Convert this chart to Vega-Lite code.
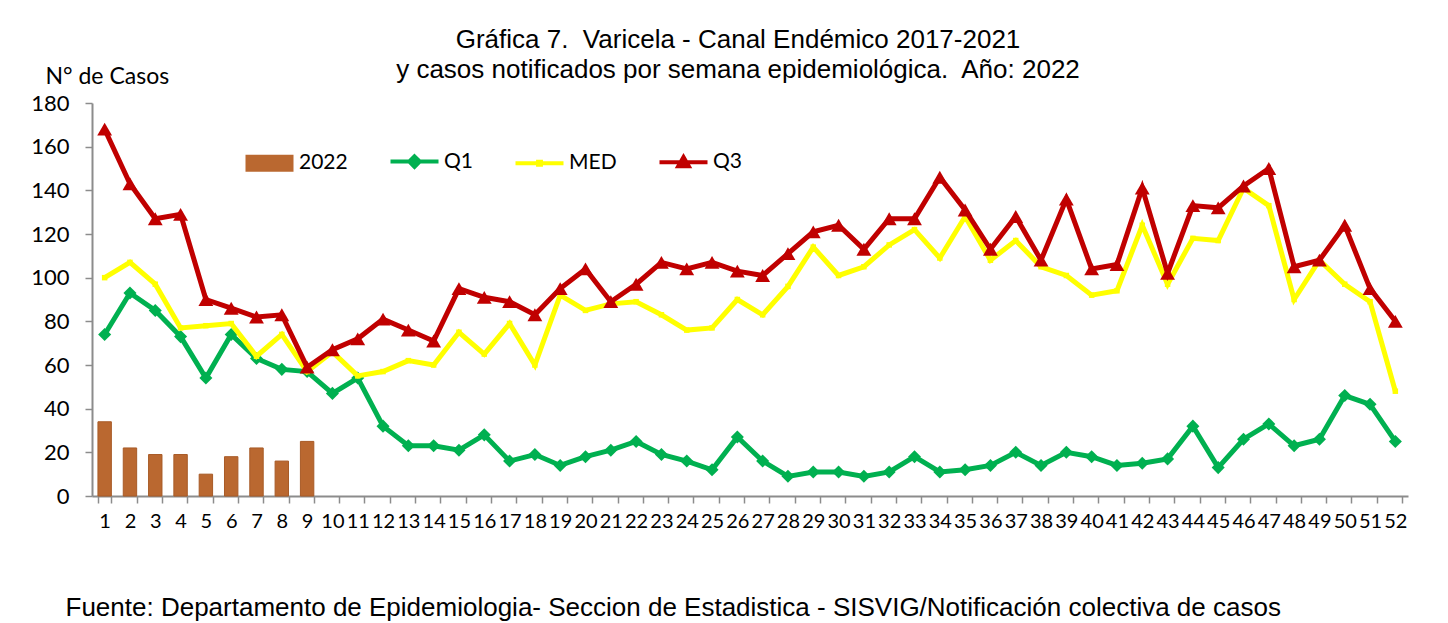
{
  "$schema": "https://vega.github.io/schema/vega-lite/v6.json",
  "width": 1316,
  "height": 393,
  "autosize": {"type": "none"},
  "padding": {"left": 92, "top": 103, "right": 40, "bottom": 127},
  "background": "white",
  "config": {"view": {"stroke": null}, "font": "Liberation Sans"},
  "title": {
    "text": ["Gráfica 7.\u00a0 Varicela - Canal Endémico 2017-2021", "y casos notificados por semana epidemiológica.\u00a0 Año: 2022"],
    "font": "Liberation Sans",
    "fontSize": 26,
    "fontWeight": "normal",
    "color": "#000000",
    "anchor": "middle",
    "frame": "group",
    "lineHeight": 30,
    "dx": -12,
    "dy": 22,
    "offset": 4
  },
  "data": {
    "values": [
      {"semana": 1, "2022": 34, "Q1": 74, "MED": 100, "Q3": 168},
      {"semana": 2, "2022": 22, "Q1": 93, "MED": 107, "Q3": 143},
      {"semana": 3, "2022": 19, "Q1": 85, "MED": 97, "Q3": 127},
      {"semana": 4, "2022": 19, "Q1": 73, "MED": 77, "Q3": 129},
      {"semana": 5, "2022": 10, "Q1": 54, "MED": 78, "Q3": 90},
      {"semana": 6, "2022": 18, "Q1": 74, "MED": 79, "Q3": 86},
      {"semana": 7, "2022": 22, "Q1": 63, "MED": 64, "Q3": 82},
      {"semana": 8, "2022": 16, "Q1": 58, "MED": 74, "Q3": 83},
      {"semana": 9, "2022": 25, "Q1": 57, "MED": 57, "Q3": 59},
      {"semana": 10, "Q1": 47, "MED": 66, "Q3": 67},
      {"semana": 11, "Q1": 54, "MED": 55, "Q3": 72},
      {"semana": 12, "Q1": 32, "MED": 57, "Q3": 81},
      {"semana": 13, "Q1": 23, "MED": 62, "Q3": 76},
      {"semana": 14, "Q1": 23, "MED": 60, "Q3": 71},
      {"semana": 15, "Q1": 21, "MED": 75, "Q3": 95},
      {"semana": 16, "Q1": 28, "MED": 65, "Q3": 91},
      {"semana": 17, "Q1": 16, "MED": 79, "Q3": 89},
      {"semana": 18, "Q1": 19, "MED": 60, "Q3": 83},
      {"semana": 19, "Q1": 14, "MED": 92, "Q3": 95},
      {"semana": 20, "Q1": 18, "MED": 85, "Q3": 104},
      {"semana": 21, "Q1": 21, "MED": 88, "Q3": 89},
      {"semana": 22, "Q1": 25, "MED": 89, "Q3": 97},
      {"semana": 23, "Q1": 19, "MED": 83, "Q3": 107},
      {"semana": 24, "Q1": 16, "MED": 76, "Q3": 104},
      {"semana": 25, "Q1": 12, "MED": 77, "Q3": 107},
      {"semana": 26, "Q1": 27, "MED": 90, "Q3": 103},
      {"semana": 27, "Q1": 16, "MED": 83, "Q3": 101},
      {"semana": 28, "Q1": 9, "MED": 96, "Q3": 111},
      {"semana": 29, "Q1": 11, "MED": 114, "Q3": 121},
      {"semana": 30, "Q1": 11, "MED": 101, "Q3": 124},
      {"semana": 31, "Q1": 9, "MED": 105, "Q3": 113},
      {"semana": 32, "Q1": 11, "MED": 115, "Q3": 127},
      {"semana": 33, "Q1": 18, "MED": 122, "Q3": 127},
      {"semana": 34, "Q1": 11, "MED": 109, "Q3": 146},
      {"semana": 35, "Q1": 12, "MED": 128, "Q3": 131},
      {"semana": 36, "Q1": 14, "MED": 108, "Q3": 113},
      {"semana": 37, "Q1": 20, "MED": 117, "Q3": 128},
      {"semana": 38, "Q1": 14, "MED": 105, "Q3": 108},
      {"semana": 39, "Q1": 20, "MED": 101, "Q3": 136},
      {"semana": 40, "Q1": 18, "MED": 92, "Q3": 104},
      {"semana": 41, "Q1": 14, "MED": 94, "Q3": 106},
      {"semana": 42, "Q1": 15, "MED": 124, "Q3": 141},
      {"semana": 43, "Q1": 17, "MED": 97, "Q3": 102},
      {"semana": 44, "Q1": 32, "MED": 118, "Q3": 133},
      {"semana": 45, "Q1": 13, "MED": 117, "Q3": 132},
      {"semana": 46, "Q1": 26, "MED": 141, "Q3": 142},
      {"semana": 47, "Q1": 33, "MED": 133, "Q3": 150},
      {"semana": 48, "Q1": 23, "MED": 90, "Q3": 105},
      {"semana": 49, "Q1": 26, "MED": 108, "Q3": 108},
      {"semana": 50, "Q1": 46, "MED": 97, "Q3": 124},
      {"semana": 51, "Q1": 42, "MED": 89, "Q3": 95},
      {"semana": 52, "Q1": 25, "MED": 48, "Q3": 80}
    ]
  },
  "transform": [{"fold": ["2022", "Q1", "MED", "Q3"], "as": ["serie", "casos"]}],
  "encoding": {
    "x": {
      "field": "semana",
      "type": "ordinal",
      "scale": {"paddingInner": 0.47},
      "axis": {
        "title": "Fuente: Departamento de Epidemiologia- Seccion de Estadistica - SISVIG/Notificación colectiva de casos",
        "titleFont": "Liberation Sans",
        "titleFontSize": 26,
        "titleFontWeight": "normal",
        "titleColor": "#000000",
        "titleX": -27,
        "titleY": 119,
        "titleAlign": "left",
        "titleBaseline": "alphabetic",
        "labelAngle": 0,
        "labelFont": "Lato",
        "labelFontSize": 20,
        "labelColor": "#000000",
        "labelPadding": 8,
        "labelOverlap": false,
        "tickBand": "extent",
        "tickSize": 7,
        "tickColor": "#8C8C8C",
        "tickWidth": 1.5,
        "domainColor": "#8C8C8C",
        "domainWidth": 2
      }
    },
    "y": {
      "field": "casos",
      "type": "quantitative",
      "scale": {"domain": [0, 180], "nice": false},
      "axis": {
        "title": "N° de Casos",
        "titleAngle": 0,
        "titleX": -47,
        "titleY": -20,
        "titleAlign": "left",
        "titleBaseline": "alphabetic",
        "titleFont": "Lato",
        "titleFontSize": 23,
        "titleFontWeight": "normal",
        "titleColor": "#000000",
        "values": [0, 20, 40, 60, 80, 100, 120, 140, 160, 180],
        "grid": false,
        "labelFont": "Lato",
        "labelFontSize": 22,
        "labelColor": "#000000",
        "labelPadding": 16,
        "tickSize": 7,
        "tickColor": "#8C8C8C",
        "tickWidth": 1.5,
        "domainColor": "#8C8C8C",
        "domainWidth": 2
      }
    },
    "color": {
      "field": "serie",
      "type": "nominal",
      "scale": {"domain": ["2022", "Q1", "MED", "Q3"], "range": ["#BA6830", "#00B050", "#FFFF00", "#C00000"]},
      "legend": {
        "orient": "none",
        "legendX": 167,
        "legendY": 48,
        "direction": "horizontal",
        "title": null,
        "padding": 0,
        "labelFont": "Lato",
        "labelFontSize": 21,
        "labelColor": "#000000",
        "labelOffset": 19,
        "columnPadding": 34,
        "symbolSize": 2304,
        "symbolOpacity": 1,
        "encode": {
          "symbols": {
            "update": {
              "shape": {"signal": "datum.value === '2022' ? 'M-1,-0.35H1V0.35H-1Z' : datum.value === 'Q1' ? 'M-1,0H1M0,-0.22L0.22,0L0,0.22L-0.22,0Z' : datum.value === 'MED' ? 'M-1,0H1M-0.06,-0.06H0.06V0.06H-0.06Z' : 'M-1,0H1M0,-0.22L0.22,0.16H-0.22Z'"},
              "fill": {"signal": "scale('color', datum.value)"},
              "stroke": {"signal": "scale('color', datum.value)"},
              "strokeWidth": {"signal": "datum.value === '2022' ? 0 : 4"},
              "opacity": {"value": 1},
              "size": {"value": 2304}
            }
          }
        }
      }
    }
  },
  "layer": [
    {
      "transform": [{"filter": "datum.serie === '2022' && isValid(datum.casos)"}],
      "mark": {"type": "bar", "stroke": "#A85B27", "strokeWidth": 1}
    },
    {
      "transform": [{"filter": "datum.serie === 'Q1'"}],
      "mark": {"type": "line", "strokeWidth": 5, "point": {"shape": "diamond", "size": 170, "filled": true, "opacity": 1}}
    },
    {
      "transform": [{"filter": "datum.serie === 'MED'"}],
      "mark": {"type": "line", "strokeWidth": 5, "point": {"shape": "square", "size": 30, "filled": true, "opacity": 1}}
    },
    {
      "transform": [{"filter": "datum.serie === 'Q3'"}],
      "mark": {"type": "line", "strokeWidth": 5, "point": {"shape": "triangle-up", "size": 220, "filled": true, "opacity": 1}}
    }
  ]
}
